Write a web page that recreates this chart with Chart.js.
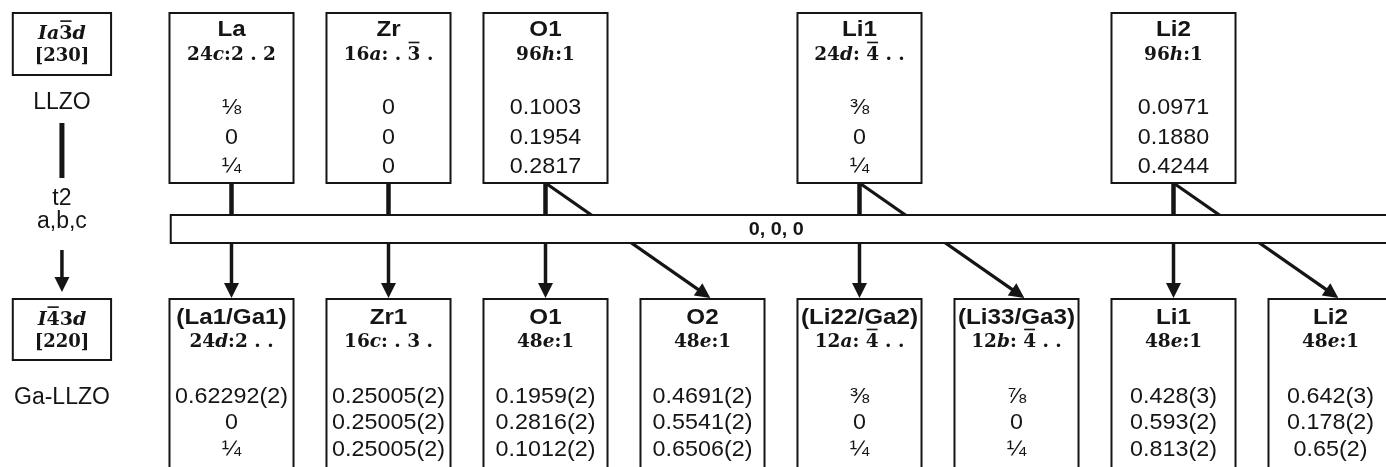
<!DOCTYPE html>
<html>
<head>
<meta charset="utf-8">
<script src="https://cdn.jsdelivr.net/npm/chart.js@4.4.1/dist/chart.umd.min.js"></script>
<style>
html,body{margin:0;padding:0;background:#fff;}
#wrap{width:1386px;height:467px;}
</style>
</head>
<body>
<div id="wrap"><canvas id="c" width="1386" height="467"></canvas></div>
<script>
// ---------- DATA ----------
// Parent structure (LLZO, Ia-3d [230])
const parentGroup = ['*Ia*^3*d*', '[230]'];
const parentName = 'LLZO';
const relation = ['t2', 'a,b,c'];
const originShift = '0, 0, 0';
const topNames = ['La', 'Zr', 'O1', 'Li1', 'Li2'];
const topCols  = [0, 1, 2, 4, 6];
const topWyck  = ['24*c*:2 . 2', '16*a*: . ^3 .', '96*h*:1', '24*d*: ^4 . .', '96*h*:1'];
const topX = ['⅛', '0', '0.1003', '⅜', '0.0971'];
const topY = ['0', '0', '0.1954', '0', '0.1880'];
const topZ = ['¼', '0', '0.2817', '¼', '0.4244'];

// Child structure (Ga-LLZO, I-43d [220])
const childGroup = ['*I*^43*d*', '[220]'];
const childName = 'Ga-LLZO';
const botNames = ['(La1/Ga1)', 'Zr1', 'O1', 'O2', '(Li22/Ga2)', '(Li33/Ga3)', 'Li1', 'Li2'];
const botCols  = [0, 1, 2, 3, 4, 5, 6, 7];
const botWyck  = ['24*d*:2 . .', '16*c*: . 3 .', '48*e*:1', '48*e*:1', '12*a*: ^4 . .', '12*b*: ^4 . .', '48*e*:1', '48*e*:1'];
const botX = ['0.62292(2)', '0.25005(2)', '0.1959(2)', '0.4691(2)', '⅜', '⅞', '0.428(3)', '0.642(3)'];
const botY = ['0', '0.25005(2)', '0.2816(2)', '0.5541(2)', '0', '0', '0.593(2)', '0.178(2)'];
const botZ = ['¼', '0.25005(2)', '0.1012(2)', '0.6506(2)', '¼', '¼', '0.813(2)', '0.65(2)'];

// Site splitting: parent site index -> child site index
const linkFrom = [0, 1, 2, 2, 3, 3, 4, 4];
const linkTo   = [0, 1, 2, 3, 4, 5, 6, 7];

// ---------- LAYOUT (styles / positions, not data) ----------
const L = {
  labelCol: -1.08, boxHalf: 0.395, labelHalf: 0.313,
  topBox: [13, 183], botBox: [299, 480],
  barY: [215, 243], barLeft: -0.387,
  topText: [30, 55, 108, 138, 167],
  botText: [318, 342, 397, 423, 450],
  ink: '#151515',
  serif: '"DejaVu Serif"', sans: '"Liberation Sans"'
};

function drawRich(ctx, str, cx, cy, size) {
  const segs = []; let italic = false, bar = false;
  for (const ch of str) {
    if (ch === '*') { italic = !italic; continue; }
    if (ch === '^') { bar = true; continue; }
    segs.push({ ch, italic, bar }); bar = false;
  }
  const f = s => (s.italic ? 'italic ' : '') + 'bold ' + size + 'px ' + L.serif;
  let total = 0;
  segs.forEach(s => { ctx.font = f(s); s.w = ctx.measureText(s.ch).width; total += s.w; });
  let x = cx - total / 2;
  ctx.textAlign = 'left'; ctx.textBaseline = 'middle';
  segs.forEach(s => {
    ctx.font = f(s);
    ctx.fillText(s.ch, x, cy);
    if (s.bar) ctx.fillRect(x + 1, cy - size * 0.72, s.w - 2, 1.6);
    x += s.w;
  });
}

function stretchText(ctx, txt, cx, cy, font, sx) {
  ctx.save();
  ctx.font = font; ctx.textAlign = 'center'; ctx.textBaseline = 'middle';
  ctx.translate(cx, cy); ctx.scale(sx, 1);
  ctx.fillText(txt, 0, 0);
  ctx.restore();
}

function arrowHead(ctx, x0, y0, x1, y1, len, half) {
  const a = Math.atan2(y1 - y0, x1 - x0);
  ctx.beginPath();
  ctx.moveTo(x1, y1);
  ctx.lineTo(x1 - len * Math.cos(a) + half * Math.sin(a), y1 - len * Math.sin(a) - half * Math.cos(a));
  ctx.lineTo(x1 - len * Math.cos(a) - half * Math.sin(a), y1 - len * Math.sin(a) + half * Math.cos(a));
  ctx.closePath(); ctx.fill();
}

const treePlugin = {
  id: 'tree',
  afterDraw(chart) {
    const ctx = chart.ctx, xs = chart.scales.x, ys = chart.scales.y;
    const X = v => xs.getPixelForValue(v), Y = v => ys.getPixelForValue(v);
    ctx.save();
    ctx.fillStyle = '#fff';
    ctx.fillRect(0, 0, chart.width, chart.height);
    ctx.strokeStyle = L.ink; ctx.fillStyle = L.ink;
    ctx.lineCap = 'butt';

    // diagonal links (drawn first, bar hides middle)
    linkFrom.forEach((f, k) => {
      const c0 = topCols[f], c1 = botCols[linkTo[k]];
      if (c0 === c1) return;
      const x0 = X(c0), y0 = Y(L.topBox[1]), x1 = X(c1 + 0.05), y1 = Y(L.botBox[0]) - 1;
      ctx.lineWidth = 3.2;
      const a = Math.atan2(y1 - y0, x1 - x0);
      ctx.beginPath(); ctx.moveTo(x0, y0); ctx.lineTo(x1 - 12 * Math.cos(a), y1 - 12 * Math.sin(a)); ctx.stroke();
      arrowHead(ctx, x0, y0, x1, y1, 15, 7.5);
    });
    // vertical stems top
    topCols.forEach(c => {
      ctx.lineWidth = 4.5;
      ctx.beginPath(); ctx.moveTo(X(c), Y(L.topBox[1])); ctx.lineTo(X(c), Y(L.barY[0])); ctx.stroke();
    });
    // vertical arrows bottom
    linkFrom.forEach((f, k) => {
      const c0 = topCols[f], c1 = botCols[linkTo[k]];
      if (c0 !== c1) return;
      ctx.lineWidth = 3.5;
      const y1 = Y(L.botBox[0]) - 1;
      ctx.beginPath(); ctx.moveTo(X(c1), Y(L.barY[1])); ctx.lineTo(X(c1), y1 - 12); ctx.stroke();
      arrowHead(ctx, X(c1), Y(L.barY[1]), X(c1), y1, 15, 7.5);
    });

    // origin shift bar
    ctx.fillStyle = '#fff'; ctx.lineWidth = 2;
    const bx = X(L.barLeft), by = Y(L.barY[0]), bh = Y(L.barY[1]) - by;
    ctx.fillRect(bx, by, chart.width + 10 - bx, bh);
    ctx.strokeRect(bx, by, chart.width + 10 - bx, bh);
    ctx.fillStyle = L.ink;
    stretchText(ctx, originShift, X(3.47), Y(230), 'bold 18px ' + L.sans, 1.1);

    function box(c, half, yr) {
      const x0 = X(c - half), x1 = X(c + half);
      ctx.fillStyle = '#fff'; ctx.fillRect(x0, Y(yr[0]), x1 - x0, Y(yr[1]) - Y(yr[0]));
      ctx.lineWidth = 2; ctx.strokeRect(x0, Y(yr[0]), x1 - x0, Y(yr[1]) - Y(yr[0]));
      ctx.fillStyle = L.ink;
    }
    function siteBox(c, yr, t, name, wy, vx, vy, vz) {
      box(c, L.boxHalf, yr);
      const cx = X(c);
      stretchText(ctx, name, cx, Y(t[0]), 'bold 22px ' + L.sans, 1.1);
      drawRich(ctx, wy, cx, Y(t[1]), 18.5);
      const vf = '22px ' + L.sans;
      stretchText(ctx, vx, cx, Y(t[2]), vf, 1.06);
      stretchText(ctx, vy, cx, Y(t[3]), vf, 1.06);
      stretchText(ctx, vz, cx, Y(t[4]), vf, 1.06);
    }
    topNames.forEach((n, i) => siteBox(topCols[i], L.topBox, L.topText, n, topWyck[i], topX[i], topY[i], topZ[i]));
    botNames.forEach((n, i) => siteBox(botCols[i], L.botBox, L.botText, n, botWyck[i], botX[i], botY[i], botZ[i]));

    // left labels
    const lc = L.labelCol, lx = X(lc);
    box(lc, L.labelHalf, [13, 75]);
    drawRich(ctx, parentGroup[0], lx, Y(34), 19);
    drawRich(ctx, parentGroup[1], lx, Y(56), 18);
    box(lc, L.labelHalf, [299, 360]);
    drawRich(ctx, childGroup[0], lx, Y(320), 19);
    drawRich(ctx, childGroup[1], lx, Y(342), 18);
    const lf = '23px ' + L.sans;
    stretchText(ctx, parentName, lx, Y(103), lf, 1.0);
    stretchText(ctx, relation[0], lx, Y(199), lf, 1.0);
    stretchText(ctx, relation[1], lx, Y(222), lf, 1.0);
    stretchText(ctx, childName, lx, Y(398), lf, 1.0);
    ctx.lineWidth = 5;
    ctx.beginPath(); ctx.moveTo(lx, Y(123)); ctx.lineTo(lx, Y(178)); ctx.stroke();
    ctx.lineWidth = 3.5;
    ctx.beginPath(); ctx.moveTo(lx, Y(250)); ctx.lineTo(lx, Y(280)); ctx.stroke();
    arrowHead(ctx, lx, Y(250), lx, Y(292), 15, 7.5);
    ctx.restore();
  }
};

new Chart(document.getElementById('c'), {
  type: 'scatter',
  data: {
    datasets: [
      { label: 'parent', data: topCols.map(c => ({ x: c, y: L.topBox[0] })), pointRadius: 0 },
      { label: 'child', data: botCols.map(c => ({ x: c, y: L.botBox[0] })), pointRadius: 0 }
    ]
  },
  options: {
    responsive: false, animation: false, devicePixelRatio: 1,
    layout: { padding: 0 },
    plugins: { legend: { display: false }, tooltip: { enabled: false } },
    events: [],
    scales: {
      x: { type: 'linear', display: false, min: -1.4745, max: 7.3535 },
      y: { type: 'linear', display: false, min: 0, max: 467, reverse: true }
    }
  },
  plugins: [treePlugin]
});
</script>
</body>
</html>
